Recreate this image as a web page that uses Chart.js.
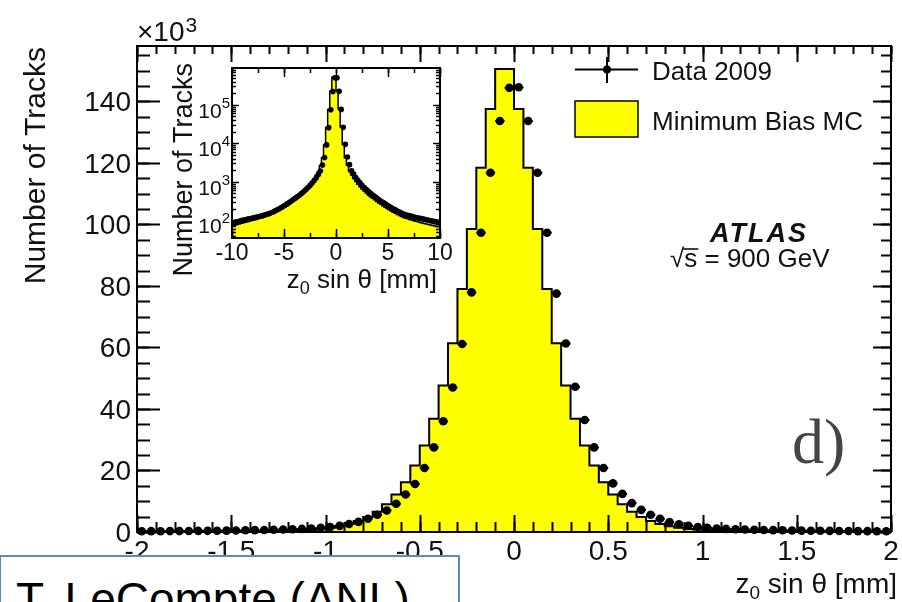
<!DOCTYPE html>
<html>
<head>
<meta charset="utf-8">
<script src="https://cdn.jsdelivr.net/npm/chart.js@4.4.0/dist/chart.umd.min.js"></script>
<style>
  html, body { margin: 0; padding: 0; background: #fff; }
  #wrap { position: relative; width: 902px; height: 602px; overflow: hidden; }
  #wrap canvas { position: absolute; left: 0; top: 0; }
  #credit {
    position: absolute; left: -1px; top: 555px; width: 461px; height: 60px;
    box-sizing: border-box; border: 2px solid #5b8bc5; background: #fff;
  }
  #credit span {
    position: absolute; left: 15px; top: 15px; line-height: 46px;
    font: 46px "Liberation Sans", Arial, sans-serif; color: #000; white-space: nowrap;
  }
</style>
</head>
<body>
<div id="wrap">
  <canvas id="main" width="902" height="602"></canvas>
  <canvas id="inset" width="902" height="602"></canvas>
  <div id="credit"><span>T. LeCompte (ANL)</span></div>
</div>
<script>
// --- données ---
// histogramme principal : 80 bins de 0.05 mm entre -2 et 2 (en milliers de traces)
const mainLow = -2, mainBin = 0.05;
const dataMain = [
  0.25, 0.27, 0.26, 0.30, 0.30, 0.33, 0.35, 0.38, 0.42, 0.45,
  0.50, 0.55, 0.60, 0.66, 0.72, 0.80, 0.90, 1.00, 1.15, 1.35,
  1.6, 2.0, 2.6, 3.3, 4.3, 5.6, 7.0, 9.2, 12.2, 15.6,
  20.8, 27.5, 36.0, 47.0, 61.1, 77.9, 97.3, 116.8, 133.6, 144.4,
  144.6, 133.6, 116.8, 97.3, 77.5, 61.3, 47.2, 36.4, 27.5, 20.8,
  15.8, 12.4, 9.4, 7.2, 5.6, 4.3, 3.2, 2.5, 2.0, 1.6,
  1.35, 1.15, 1.00, 0.90, 0.80, 0.72, 0.66, 0.60, 0.55, 0.50,
  0.46, 0.42, 0.39, 0.36, 0.33, 0.31, 0.29, 0.27, 0.26, 0.25
];
const mcMain = [
  0.10, 0.11, 0.11, 0.12, 0.13, 0.14, 0.15, 0.16, 0.17, 0.18,
  0.20, 0.22, 0.24, 0.27, 0.30, 0.35, 0.40, 0.45, 0.55, 0.65,
  1.0, 1.4, 1.9, 2.6, 3.6, 4.9, 6.6, 9.0, 12.2, 16.2,
  21.6, 28.1, 36.8, 47.6, 61.4, 79.0, 98.5, 118.4, 137.5, 150.5,
  150.5, 137.5, 118.4, 98.5, 79.0, 61.4, 47.6, 36.8, 28.1, 21.6,
  16.2, 12.2, 9.0, 6.6, 4.9, 3.6, 2.6, 1.9, 1.4, 1.0,
  0.80, 0.65, 0.55, 0.45, 0.40, 0.35, 0.30, 0.27, 0.24, 0.22,
  0.20, 0.18, 0.17, 0.16, 0.15, 0.14, 0.13, 0.12, 0.11, 0.10
];
const xTicksMain = [-2, -1.5, -1, -0.5, 0, 0.5, 1, 1.5, 2];
const yTicksMain = [0, 20, 40, 60, 80, 100, 120, 140];

// encart log : 100 bins de 0.2 mm entre -10 et 10
const insetLow = -10, insetBin = 0.2;
const dataInset = [
  86, 90, 92, 95, 99, 102, 104, 108, 111, 114,
  117, 121, 124, 128, 133, 137, 142, 149, 156, 163,
  174, 186, 198, 213, 229, 247, 268, 292, 318, 347,
  378, 415, 455, 505, 560, 630, 710, 810, 935, 1080,
  1280, 1560, 1920, 2750, 4300, 9100, 25500, 74000, 220000, 500000,
  504000, 223000, 76000, 26000, 9400, 4400, 2800, 1950, 1600, 1300,
  1100, 950, 820, 720, 640, 570, 510, 460, 420, 385,
  350, 320, 295, 272, 250, 232, 215, 200, 188, 176,
  165, 156, 147, 140, 136, 132, 127, 123, 119, 116,
  113, 110, 107, 104, 101, 98, 96, 93, 91, 88
];
const mcInset = [
  70, 73, 76, 78, 81, 84, 87, 90, 93, 96,
  99, 102, 106, 110, 114, 118, 123, 129, 135, 142,
  151, 161, 172, 185, 199, 215, 234, 256, 280, 307,
  337, 371, 410, 456, 508, 572, 648, 745, 865, 1010,
  1200, 1480, 1850, 2650, 4200, 9000, 25800, 76000, 228000, 515000,
  515000, 230000, 78000, 26500, 9300, 4250, 2680, 1860, 1510, 1220,
  1020, 870, 750, 655, 580, 515, 460, 413, 375, 342,
  312, 285, 262, 241, 222, 205, 189, 176, 164, 153,
  143, 134, 126, 119, 114, 110, 106, 102, 98, 95,
  92, 89, 86, 83, 81, 78, 76, 74, 72, 70
];
const xTicksInset = [-10, -5, 0, 5, 10];
const yExpInset = [2, 3, 4, 5];

const YELLOW = '#ffff00';
const SANS = '"Liberation Sans", Arial, sans-serif';

// points de l'histogramme en escalier (bord bas de chaque bin + bord final)
function stepPoints(low, w, vals) {
  const pts = vals.map((v, i) => ({ x: low + i * w, y: v }));
  pts.push({ x: low + vals.length * w, y: vals[vals.length - 1] });
  return pts;
}
function centerPoints(low, w, vals) {
  return vals.map((v, i) => ({ x: low + (i + 0.5) * w, y: v }));
}
function range(a, b, s) { const r = []; for (let v = a; v <= b + 1e-9; v += s) r.push(+v.toFixed(4)); return r; }

// cadre style ROOT : ticks vers l'intérieur sur les 4 côtés + barres d'erreur horizontales
function rootFrame(cfg) {
  return {
    id: 'rootFrame',
    beforeDraw(chart) {
      if (!cfg.background) return;
      const a = chart.chartArea, ctx = chart.ctx;
      ctx.save();
      ctx.fillStyle = cfg.background;
      ctx.fillRect(a.left, a.top, a.right - a.left, a.bottom - a.top);
      ctx.restore();
    },
    afterDatasetsDraw(chart) {
      const ctx = chart.ctx, xs = chart.scales.x, ys = chart.scales.y;
      ctx.save();
      ctx.strokeStyle = '#000';
      ctx.lineWidth = cfg.errWidth;
      chart.data.datasets[0].data.forEach(p => {
        const y = ys.getPixelForValue(p.y);
        ctx.beginPath();
        ctx.moveTo(xs.getPixelForValue(p.x - cfg.halfBin), y);
        ctx.lineTo(xs.getPixelForValue(p.x + cfg.halfBin), y);
        ctx.stroke();
      });
      ctx.restore();
    },
    afterDraw(chart) {
      const ctx = chart.ctx, a = chart.chartArea, xs = chart.scales.x, ys = chart.scales.y;
      const L = cfg.tickLen;
      ctx.save();
      ctx.strokeStyle = '#000';
      ctx.lineWidth = cfg.tickWidth;
      const seg = (x1, y1, x2, y2) => { ctx.beginPath(); ctx.moveTo(x1, y1); ctx.lineTo(x2, y2); ctx.stroke(); };
      const xt = (vals, k) => vals.forEach(v => {
        const x = Math.round(xs.getPixelForValue(v)) + 0.5;
        seg(x, a.bottom, x, a.bottom - L.bottom[k]);
        seg(x, a.top, x, a.top + L.top[k]);
      });
      const yt = (vals, k) => vals.forEach(v => {
        const y = Math.round(ys.getPixelForValue(v)) + 0.5;
        seg(a.left, y, a.left + L.left[k], y);
        seg(a.right, y, a.right - L.right[k], y);
      });
      xt(cfg.xMajor, 0); xt(cfg.xMinor, 1);
      yt(cfg.yMajor, 0); yt(cfg.yMinor, 1);
      ctx.lineWidth = cfg.frameWidth;
      ctx.strokeRect(a.left, a.top, a.right - a.left, a.bottom - a.top);
      ctx.restore();
      cfg.labels(chart, ctx);
    }
  };
}

// z0 sin θ [mm], aligné à droite
function drawZTitle(ctx, right, base, size) {
  ctx.save();
  ctx.fillStyle = '#111';
  ctx.textAlign = 'left';
  ctx.textBaseline = 'alphabetic';
  const big = size + 'px ' + SANS, small = Math.round(size * 0.68) + 'px ' + SANS;
  ctx.font = big;
  const wz = ctx.measureText('z').width, wr = ctx.measureText(' sin \u03b8 [mm]').width;
  ctx.font = small;
  const w0 = ctx.measureText('0').width;
  let x = right - (wz + w0 + wr);
  ctx.font = big; ctx.fillText('z', x, base); x += wz;
  ctx.font = small; ctx.fillText('0', x, base + size * 0.22); x += w0;
  ctx.font = big; ctx.fillText(' sin \u03b8 [mm]', x, base);
  ctx.restore();
}

function drawVTitle(ctx, xBase, yTop, size, text) {
  ctx.save();
  ctx.translate(xBase, yTop);
  ctx.rotate(-Math.PI / 2);
  ctx.fillStyle = '#111';
  ctx.font = size + 'px ' + SANS;
  ctx.textAlign = 'right';
  ctx.textBaseline = 'alphabetic';
  ctx.fillText(text, 0, 0);
  ctx.restore();
}

// --- graphique principal ---
new Chart(document.getElementById('main'), {
  type: 'line',
  data: {
    datasets: [
      { label: 'Data 2009', data: centerPoints(mainLow, mainBin, dataMain), showLine: false,
        pointRadius: 4.3, pointBorderWidth: 0, pointBackgroundColor: '#000', order: 0, clip: false },
      { label: 'Minimum Bias MC', data: stepPoints(mainLow, mainBin, mcMain), stepped: 'after',
        fill: 'start', backgroundColor: YELLOW, borderColor: '#000', borderWidth: 2, pointRadius: 0, order: 1 }
    ]
  },
  options: {
    responsive: false, animation: false, devicePixelRatio: 1,
    layout: { padding: { left: 137, top: 46, right: 11, bottom: 70 } },
    scales: {
      x: { type: 'linear', min: -2, max: 2, display: false },
      y: { type: 'linear', min: 0, max: 158, display: false }
    },
    plugins: { legend: { display: false }, tooltip: { enabled: false } }
  },
  plugins: [rootFrame({
    errWidth: 2, halfBin: mainBin / 2, tickWidth: 2, frameWidth: 2,
    xMajor: xTicksMain, xMinor: range(-2, 2, 0.1),
    yMajor: yTicksMain, yMinor: range(0, 155, 5),
    tickLen: { bottom: [17, 10], top: [16, 8], left: [23, 13], right: [18, 10] },
    labels(chart, ctx) {
      const xs = chart.scales.x, ys = chart.scales.y;
      ctx.save();
      ctx.fillStyle = '#111';
      ctx.font = '28px ' + SANS;
      ctx.textBaseline = 'alphabetic';
      ctx.textAlign = 'right';
      yTicksMain.forEach(v => ctx.fillText(String(v), 131, ys.getPixelForValue(v) + 10));
      ctx.textAlign = 'center';
      xTicksMain.forEach(v => ctx.fillText(String(v), xs.getPixelForValue(v), 560));
      // ×10³
      ctx.textAlign = 'left';
      ctx.fillText('\u00d710', 137, 41);
      const w = ctx.measureText('\u00d710').width;
      ctx.font = '21px ' + SANS;
      ctx.fillText('3', 137 + w + 1, 32);
      ctx.restore();
      drawVTitle(ctx, 45, 47, 30, 'Number of Tracks');
      drawZTitle(ctx, 897, 593, 28);

      // légende
      ctx.save();
      ctx.strokeStyle = '#000';
      ctx.lineWidth = 2;
      ctx.beginPath(); ctx.moveTo(575, 69.5); ctx.lineTo(638, 69.5); ctx.stroke();
      ctx.beginPath(); ctx.moveTo(607, 57); ctx.lineTo(607, 83); ctx.stroke();
      ctx.fillStyle = '#000';
      ctx.beginPath(); ctx.arc(607, 69.5, 4, 0, Math.PI * 2); ctx.fill();
      ctx.fillStyle = YELLOW;
      ctx.fillRect(575, 101, 63, 36);
      ctx.lineWidth = 1.5;
      ctx.strokeRect(575, 101, 63, 36);
      ctx.fillStyle = '#111';
      ctx.font = '26px ' + SANS;
      ctx.textAlign = 'left';
      ctx.fillText('Data 2009', 652, 80);
      ctx.fillText('Minimum Bias MC', 652, 130);

      // ATLAS
      ctx.font = 'italic bold 27px ' + SANS;
      ctx.textAlign = 'center';
      if ('letterSpacing' in ctx) ctx.letterSpacing = '2px';
      ctx.fillText('ATLAS', 759, 242);
      if ('letterSpacing' in ctx) ctx.letterSpacing = '0px';
      // √s = 900 GeV
      ctx.font = '26px ' + SANS;
      ctx.textAlign = 'left';
      let x = 670;
      ctx.fillText('\u221a', x, 267);
      x += ctx.measureText('\u221a').width;
      const ws = ctx.measureText('s').width;
      ctx.fillText('s', x, 267);
      ctx.lineWidth = 1.5;
      ctx.beginPath(); ctx.moveTo(x - 1, 249); ctx.lineTo(x + ws + 1, 249); ctx.stroke();
      ctx.fillText(' = 900 GeV', x + ws, 267);

      // d)
      ctx.fillStyle = '#444';
      ctx.font = '64px "Liberation Serif", "Times New Roman", serif';
      ctx.fillText('d)', 792, 463);
      ctx.restore();
    }
  })]
});

// --- encart en échelle log ---
const logMinor = [];
[1, 2, 3, 4, 5].forEach(d => { for (let k = 2; k <= 9; k++) logMinor.push(k * Math.pow(10, d)); });

new Chart(document.getElementById('inset'), {
  type: 'line',
  data: {
    datasets: [
      { label: 'Data 2009', data: centerPoints(insetLow, insetBin, dataInset), showLine: false,
        pointRadius: 2.8, pointBorderWidth: 0, pointBackgroundColor: '#000', order: 0 },
      { label: 'Minimum Bias MC', data: stepPoints(insetLow, insetBin, mcInset), stepped: 'after',
        fill: 'start', backgroundColor: YELLOW, borderColor: '#000', borderWidth: 1.5, pointRadius: 0, order: 1 }
    ]
  },
  options: {
    responsive: false, animation: false, devicePixelRatio: 1,
    layout: { padding: { left: 232, top: 68, right: 462, bottom: 364 } },
    scales: {
      x: { type: 'linear', min: -10, max: 10, display: false },
      y: { type: 'logarithmic', min: 35, max: 900000, display: false }
    },
    plugins: { legend: { display: false }, tooltip: { enabled: false } }
  },
  plugins: [rootFrame({
    background: '#fff',
    errWidth: 1.5, halfBin: insetBin / 2, tickWidth: 1.5, frameWidth: 2,
    xMajor: xTicksInset, xMinor: range(-10, 10, 2.5),
    yMajor: yExpInset.map(e => Math.pow(10, e)), yMinor: logMinor.filter(v => v > 35 && v < 900000),
    tickLen: { bottom: [9, 5], top: [9, 5], left: [7, 4], right: [7, 4] },
    labels(chart, ctx) {
      const xs = chart.scales.x, ys = chart.scales.y;
      ctx.save();
      ctx.fillStyle = '#111';
      ctx.textBaseline = 'alphabetic';
      ctx.font = '23px ' + SANS;
      ctx.textAlign = 'center';
      xTicksInset.forEach(v => ctx.fillText(String(v), xs.getPixelForValue(v), 260));
      // 10^n
      ctx.textAlign = 'left';
      yExpInset.forEach(e => {
        const y = ys.getPixelForValue(Math.pow(10, e));
        ctx.font = '15px ' + SANS;
        const we = ctx.measureText(String(e)).width;
        ctx.font = '21px ' + SANS;
        const wb = ctx.measureText('10').width;
        const x0 = 230 - we - wb;
        ctx.fillText('10', x0, y + 13);
        ctx.font = '15px ' + SANS;
        ctx.fillText(String(e), x0 + wb, y + 3);
      });
      ctx.restore();
      drawVTitle(ctx, 192, 63, 27, 'Number of Tracks');
      drawZTitle(ctx, 437, 288, 26);
    }
  })]
});
</script>
</body>
</html>
